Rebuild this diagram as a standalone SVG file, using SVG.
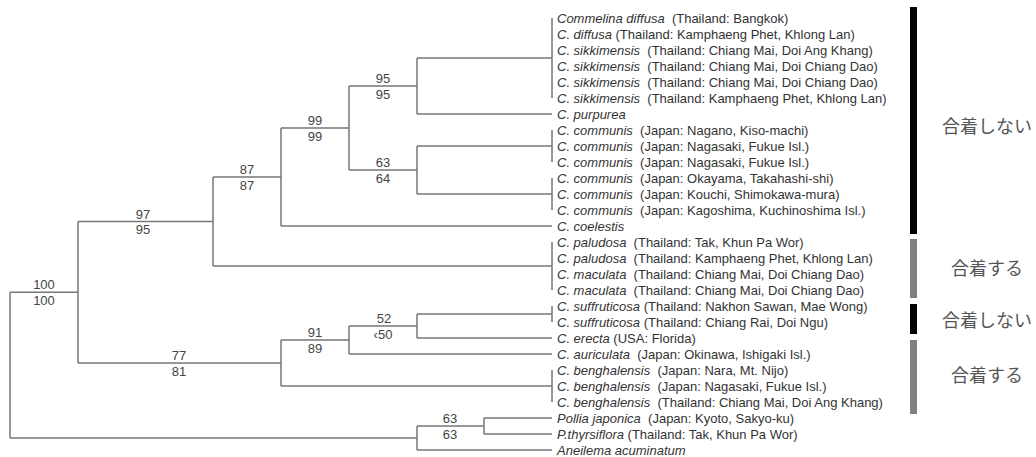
<svg xmlns="http://www.w3.org/2000/svg" width="1036" height="457" viewBox="0 0 1036 457">
<style>
.br{fill:none;stroke:#777;stroke-width:1.5}
.tx{font-family:"Liberation Sans",Arial,sans-serif;font-size:13px;fill:#333;white-space:pre}
.sp{font-style:italic}
.bs{font-family:"Liberation Sans",Arial,sans-serif;font-size:13px;fill:#444;text-anchor:middle}
.jp{font-family:"Noto Sans CJK JP",sans-serif;font-size:18px;fill:#555;text-anchor:middle}
</style>
<rect width="1036" height="457" fill="#fff"/>
<g id="connectors" class="br">
<path d="M10 292.25V438M10 292.25H78M10 438H417"/>
<path d="M78 221.5V363M78 221.5H213M78 363H281"/>
<path d="M213 177V266M213 177H281M213 266H552"/>
<path d="M281 128V226M281 128H349M281 226H552"/>
<path d="M349 86V170M349 86H417M349 170H417"/>
<path d="M417 58V114M417 58H552M417 114H552"/>
<path d="M417 146V194M417 146H552M417 194H552"/>
<path d="M281 340V386M281 340H349M281 386H552"/>
<path d="M349 326V354M349 326H417M349 354H552"/>
<path d="M417 314V338M417 314H552M417 338H552"/>
<path d="M417 426V450M417 426H484M417 450H552"/>
<path d="M484 418V434M484 418H552M484 434H552"/>
<path d="M552 18V98M552 130V162M552 178V210M552 242V290M552 306V322M552 370V402"/>
</g>
<g id="support">
<g id="s100"><text class="bs" x="44" y="289.25">100</text><text class="bs" x="44" y="304.75">100</text></g>
<g id="s97"><text class="bs" x="143" y="218.5">97</text><text class="bs" x="143" y="234">95</text></g>
<g id="s87"><text class="bs" x="247" y="174">87</text><text class="bs" x="247" y="189.5">87</text></g>
<g id="s99"><text class="bs" x="315" y="125">99</text><text class="bs" x="315" y="140.5">99</text></g>
<g id="s95"><text class="bs" x="383" y="83">95</text><text class="bs" x="383" y="98.5">95</text></g>
<g id="s63a"><text class="bs" x="383" y="167">63</text><text class="bs" x="383" y="182.5">64</text></g>
<g id="s77"><text class="bs" x="179" y="360">77</text><text class="bs" x="179" y="375.5">81</text></g>
<g id="s91"><text class="bs" x="315" y="337">91</text><text class="bs" x="315" y="352.5">89</text></g>
<g id="s52"><text class="bs" x="384" y="323">52</text><text class="bs" x="383" y="338.5">‹50</text></g>
<g id="s63b"><text class="bs" x="450" y="423">63</text><text class="bs" x="450" y="438.5">63</text></g>
</g>
<g id="taxa">
<g id="t0"><text class="tx" x="557" y="22.5" xml:space="preserve"><tspan class="sp">Commelina diffusa</tspan>  (Thailand: Bangkok)</text></g>
<g id="t1"><text class="tx" x="557" y="38.5" xml:space="preserve"><tspan class="sp">C. diffusa</tspan> (Thailand: Kamphaeng Phet, Khlong Lan)</text></g>
<g id="t2"><text class="tx" x="557" y="54.5" xml:space="preserve"><tspan class="sp">C. sikkimensis</tspan>  (Thailand: Chiang Mai, Doi Ang Khang)</text></g>
<g id="t3"><text class="tx" x="557" y="70.5" xml:space="preserve"><tspan class="sp">C. sikkimensis</tspan>  (Thailand: Chiang Mai, Doi Chiang Dao)</text></g>
<g id="t4"><text class="tx" x="557" y="86.5" xml:space="preserve"><tspan class="sp">C. sikkimensis</tspan>  (Thailand: Chiang Mai, Doi Chiang Dao)</text></g>
<g id="t5"><text class="tx" x="557" y="102.5" xml:space="preserve"><tspan class="sp">C. sikkimensis</tspan>  (Thailand: Kamphaeng Phet, Khlong Lan)</text></g>
<g id="t6"><text class="tx" x="557" y="118.5" xml:space="preserve"><tspan class="sp">C. purpurea</tspan></text></g>
<g id="t7"><text class="tx" x="557" y="134.5" xml:space="preserve"><tspan class="sp">C. communis</tspan>  (Japan: Nagano, Kiso-machi)</text></g>
<g id="t8"><text class="tx" x="557" y="150.5" xml:space="preserve"><tspan class="sp">C. communis</tspan>  (Japan: Nagasaki, Fukue Isl.)</text></g>
<g id="t9"><text class="tx" x="557" y="166.5" xml:space="preserve"><tspan class="sp">C. communis</tspan>  (Japan: Nagasaki, Fukue Isl.)</text></g>
<g id="t10"><text class="tx" x="557" y="182.5" xml:space="preserve"><tspan class="sp">C. communis</tspan>  (Japan: Okayama, Takahashi-shi)</text></g>
<g id="t11"><text class="tx" x="557" y="198.5" xml:space="preserve"><tspan class="sp">C. communis</tspan>  (Japan: Kouchi, Shimokawa-mura)</text></g>
<g id="t12"><text class="tx" x="557" y="214.5" xml:space="preserve"><tspan class="sp">C. communis</tspan>  (Japan: Kagoshima, Kuchinoshima Isl.)</text></g>
<g id="t13"><text class="tx" x="557" y="230.5" xml:space="preserve"><tspan class="sp">C. coelestis</tspan></text></g>
<g id="t14"><text class="tx" x="557" y="246.5" xml:space="preserve"><tspan class="sp">C. paludosa</tspan>  (Thailand: Tak, Khun Pa Wor)</text></g>
<g id="t15"><text class="tx" x="557" y="262.5" xml:space="preserve"><tspan class="sp">C. paludosa</tspan>  (Thailand: Kamphaeng Phet, Khlong Lan)</text></g>
<g id="t16"><text class="tx" x="557" y="278.5" xml:space="preserve"><tspan class="sp">C. maculata</tspan>  (Thailand: Chiang Mai, Doi Chiang Dao)</text></g>
<g id="t17"><text class="tx" x="557" y="294.5" xml:space="preserve"><tspan class="sp">C. maculata</tspan>  (Thailand: Chiang Mai, Doi Chiang Dao)</text></g>
<g id="t18"><text class="tx" x="557" y="310.5" xml:space="preserve"><tspan class="sp">C. suffruticosa</tspan> (Thailand: Nakhon Sawan, Mae Wong)</text></g>
<g id="t19"><text class="tx" x="557" y="326.5" xml:space="preserve"><tspan class="sp">C. suffruticosa</tspan> (Thailand: Chiang Rai, Doi Ngu)</text></g>
<g id="t20"><text class="tx" x="557" y="342.5" xml:space="preserve"><tspan class="sp">C. erecta</tspan> (USA: Florida)</text></g>
<g id="t21"><text class="tx" x="557" y="358.5" xml:space="preserve"><tspan class="sp">C. auriculata</tspan>  (Japan: Okinawa, Ishigaki Isl.)</text></g>
<g id="t22"><text class="tx" x="557" y="374.5" xml:space="preserve"><tspan class="sp">C. benghalensis</tspan>  (Japan: Nara, Mt. Nijo)</text></g>
<g id="t23"><text class="tx" x="557" y="390.5" xml:space="preserve"><tspan class="sp">C. benghalensis</tspan>  (Japan: Nagasaki, Fukue Isl.)</text></g>
<g id="t24"><text class="tx" x="557" y="406.5" xml:space="preserve"><tspan class="sp">C. benghalensis</tspan>  (Thailand: Chiang Mai, Doi Ang Khang)</text></g>
<g id="t25"><text class="tx" x="557" y="422.5" xml:space="preserve"><tspan class="sp">Pollia japonica</tspan>  (Japan: Kyoto, Sakyo-ku)</text></g>
<g id="t26"><text class="tx" x="557" y="438.5" xml:space="preserve"><tspan class="sp">P.thyrsiflora</tspan> (Thailand: Tak, Khun Pa Wor)</text></g>
<g id="t27"><text class="tx" x="557" y="454.5" xml:space="preserve"><tspan class="sp">Aneilema acuminatum</tspan></text></g>
</g>
<g id="groups">
<g id="g1"><rect x="910" y="7" width="7" height="227" fill="#000"/><text class="jp" x="987" y="133">合着しない</text></g>
<g id="g2"><rect x="910" y="239" width="7" height="59" fill="#808080"/><text class="jp" x="987" y="275">合着する</text></g>
<g id="g3"><rect x="910" y="304" width="7" height="30" fill="#000"/><text class="jp" x="987" y="327">合着しない</text></g>
<g id="g4"><rect x="910" y="340" width="7" height="74" fill="#808080"/><text class="jp" x="987" y="382">合着する</text></g>
</g>
</svg>
